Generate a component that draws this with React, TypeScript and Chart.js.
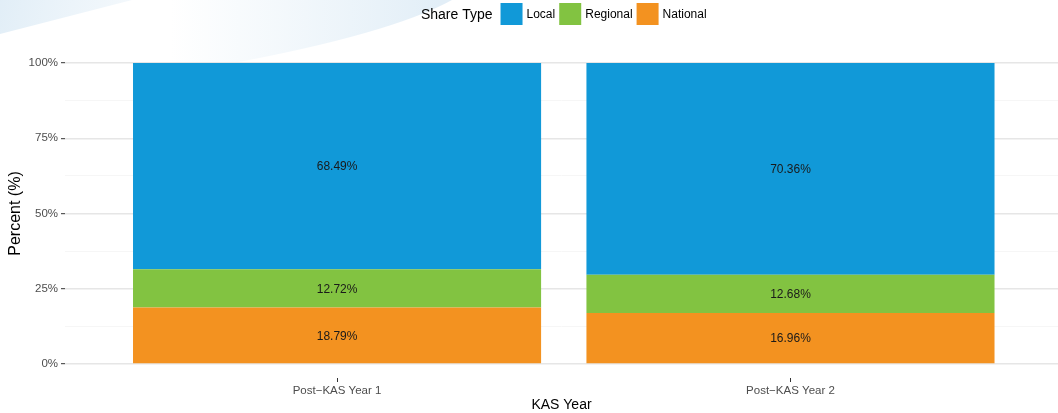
import { useEffect, useRef } from "react";
import { Chart, registerables } from "chart.js";

Chart.register(...registerables);

const categories = ["Post\u2212KAS Year 1", "Post\u2212KAS Year 2"];
const categoryIndex = [0, 1];
const localValues = [68.49, 70.36];
const regionalValues = [12.72, 12.68];
const nationalValues = [18.79, 16.96];
const yMajorTicks = [0, 25, 50, 75, 100];
const legendTitle = "Share Type";
const xTitle = "KAS Year";
const yTitle = "Percent (%)";

const COLORS = { Local: "#1199d8", Regional: "#82c341", National: "#f39220" };
const FONT = "'Liberation Sans', Arial, Helvetica, sans-serif";

const bgPlugin = {
  id: "bgDecor",
  beforeDraw(chart: any) {
    const ctx = chart.ctx;
    const w = chart.width;
    const h = chart.height;
    ctx.save();
    ctx.fillStyle = "#ffffff";
    ctx.fillRect(0, 0, w, h);
    let g = ctx.createLinearGradient(0, 0, 130, 34);
    g.addColorStop(0, "rgba(222,236,246,0.9)");
    g.addColorStop(1, "rgba(236,244,250,0.6)");
    ctx.fillStyle = g;
    ctx.beginPath();
    ctx.moveTo(0, 0);
    ctx.lineTo(132, 0);
    ctx.lineTo(0, 34);
    ctx.closePath();
    ctx.fill();
    g = ctx.createLinearGradient(170, 0, 440, 0);
    g.addColorStop(0, "rgba(228,240,248,0)");
    g.addColorStop(1, "rgba(226,238,247,1)");
    ctx.fillStyle = g;
    ctx.beginPath();
    ctx.moveTo(150, 0);
    ctx.lineTo(452, 0);
    ctx.quadraticCurveTo(390, 34, 228, 64);
    ctx.lineTo(150, 64);
    ctx.closePath();
    ctx.fill();
    ctx.restore();
  },
};

const legendPlugin = {
  id: "ggLegend",
  afterDraw(chart: any) {
    const ctx = chart.ctx;
    const xs = chart.scales.x;
    const left = chart.chartArea.left;
    const right = xs.getPixelForValue(categories.length - 1 + 0.6);
    const cx = (left + right) / 2;
    const cy = 14;
    const box = 22;
    const items = [...chart.data.datasets].reverse();
    ctx.save();
    ctx.font = `14px ${FONT}`;
    const tw = ctx.measureText(legendTitle).width;
    ctx.font = `12px ${FONT}`;
    const lw = items.map((d: any) => ctx.measureText(d.label).width);
    let total = tw + 8;
    lw.forEach((wd: number, i: number) => {
      total += box + 4 + wd + (i < lw.length - 1 ? 4 : 0);
    });
    let x = cx - total / 2;
    ctx.textBaseline = "middle";
    ctx.textAlign = "left";
    ctx.fillStyle = "#000000";
    ctx.font = `14px ${FONT}`;
    ctx.fillText(legendTitle, x, cy + 1);
    x += tw + 8;
    items.forEach((d: any, i: number) => {
      ctx.fillStyle = d.backgroundColor;
      ctx.fillRect(x, cy - box / 2, box, box);
      x += box + 4;
      ctx.fillStyle = "#000000";
      ctx.font = `12px ${FONT}`;
      ctx.fillText(d.label, x, cy + 1);
      x += lw[i] + 4;
    });
    ctx.restore();
  },
};

const labelPlugin = {
  id: "segLabels",
  afterDatasetsDraw(chart: any) {
    const ctx = chart.ctx;
    ctx.save();
    ctx.font = `12px ${FONT}`;
    ctx.fillStyle = "#1a1a1a";
    ctx.textAlign = "center";
    ctx.textBaseline = "middle";
    chart.data.datasets.forEach((ds: any, i: number) => {
      const meta = chart.getDatasetMeta(i);
      meta.data.forEach((el: any, j: number) => {
        const p = el.getProps(["x", "y", "base"], true);
        const v = ds.data[j].y;
        ctx.fillText(v.toFixed(2) + "%", p.x, (p.y + p.base) / 2 + 1);
      });
    });
    ctx.restore();
  },
};

export default function App() {
  const ref = useRef<HTMLCanvasElement | null>(null);
  useEffect(() => {
    if (!ref.current) return;
    const mk = (vals: number[]) => categoryIndex.map((x, i) => ({ x, y: vals[i] }));
    const chart = new Chart(ref.current, {
      type: "bar",
      data: {
        datasets: [
          { label: "National", data: mk(nationalValues), backgroundColor: COLORS.National, borderWidth: 0 },
          { label: "Regional", data: mk(regionalValues), backgroundColor: COLORS.Regional, borderWidth: 0 },
          { label: "Local", data: mk(localValues), backgroundColor: COLORS.Local, borderWidth: 0 },
        ],
      } as any,
      options: {
        animation: false,
        responsive: true,
        maintainAspectRatio: false,
        devicePixelRatio: 1,
        layout: { padding: { top: 63, right: 0, left: 0, bottom: 0 } },
        datasets: { bar: { barPercentage: 0.9, categoryPercentage: 1 } },
        plugins: { legend: { display: false }, tooltip: { enabled: false } },
        scales: {
          x: {
            type: "linear",
            stacked: true,
            offset: false,
            min: -0.6,
            max: 1.59,
            afterBuildTicks: (s: any) => {
              s.ticks = categoryIndex.map((v) => ({ value: v }));
            },
            afterFit: (s: any) => {
              s.height = 49;
            },
            ticks: {
              callback: (v: any) => categories[v] ?? "",
              color: "#4d4d4d",
              font: { family: FONT, size: 11.5 },
              padding: 2,
              maxRotation: 0,
              autoSkip: false,
            },
            grid: {
              offset: false,
              drawOnChartArea: false,
              drawTicks: true,
              tickLength: 18,
              tickColor: "#333333",
              tickWidth: 1,
              tickBorderDash: [0, 14, 4, 0],
            },
            border: { display: false },
            title: {
              display: true,
              text: xTitle,
              color: "#000000",
              font: { family: FONT, size: 14 },
              padding: { top: 0, bottom: -1 },
            },
          },
          y: {
            type: "linear",
            stacked: true,
            min: 0,
            max: 100,
            afterFit: (s: any) => {
              s.width = 65;
            },
            ticks: {
              stepSize: 12.5,
              callback: (v: any) => (yMajorTicks.includes(v) ? v + "%" : ""),
              color: "#4d4d4d",
              font: { family: FONT, size: 11.5 },
              padding: 3,
              autoSkip: false,
            },
            grid: {
              color: (c: any) => (yMajorTicks.includes(c.tick?.value) ? "#e6e6e6" : "#f6f6f6"),
              lineWidth: (c: any) => (yMajorTicks.includes(c.tick?.value) ? 1.4 : 1),
              tickColor: (c: any) => (yMajorTicks.includes(c.tick?.value) ? "#333333" : "rgba(0,0,0,0)"),
              tickLength: 4,
              tickWidth: 1,
            },
            border: { display: false },
            title: {
              display: true,
              text: yTitle,
              color: "#000000",
              font: { family: FONT, size: 16 },
              padding: { top: 6, bottom: 0 },
            },
          },
        },
      } as any,
      plugins: [bgPlugin, labelPlugin, legendPlugin],
    });
    return () => chart.destroy();
  }, []);
  return (
    <div style={{ position: "fixed", left: 0, top: 0, width: 1058, height: 413 }}>
      <canvas ref={ref} />
    </div>
  );
}
